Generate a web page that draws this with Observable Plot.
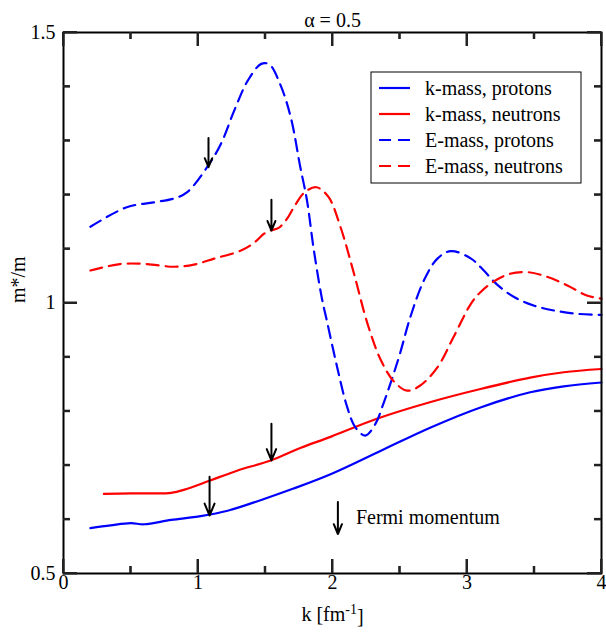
<!DOCTYPE html>
<html><head><meta charset="utf-8">
<script src="https://cdn.jsdelivr.net/npm/d3@7"></script>
<script src="https://cdn.jsdelivr.net/npm/@observablehq/plot@0.6"></script>
<style>
body{margin:0;background:#fff}
#chart{width:606px;height:637px}
</style></head><body><div id="chart"></div>
<script>
// ---- data ----
const kMassProtons = [[0.20,0.584],[0.35,0.589],[0.50,0.593],[0.60,0.591],[0.80,0.599],[1.02,0.606],[1.22,0.616],[1.47,0.636],[1.71,0.657],[1.99,0.684],[2.36,0.727],[2.73,0.770],[3.10,0.807],[3.47,0.835],[3.72,0.846],[4.00,0.853]];
const kMassNeutrons = [[0.30,0.647],[0.50,0.648],[0.65,0.648],[0.80,0.649],[0.90,0.655],[1.09,0.672],[1.29,0.690],[1.54,0.709],[1.76,0.732],[1.99,0.753],[2.33,0.786],[2.73,0.817],[3.10,0.841],[3.47,0.862],[3.72,0.872],[4.00,0.878]];
const eMassProtons = [[0.20,1.141],[0.47,1.177],[0.67,1.186],[0.82,1.193],[0.92,1.205],[1.07,1.252],[1.17,1.294],[1.27,1.356],[1.37,1.411],[1.47,1.442],[1.53,1.441],[1.61,1.405],[1.69,1.343],[1.76,1.252],[1.81,1.190],[1.86,1.100],[1.92,1.010],[1.96,0.965],[2.035,0.881],[2.11,0.807],[2.17,0.770],[2.245,0.755],[2.32,0.777],[2.38,0.815],[2.44,0.858],[2.50,0.905],[2.58,0.975],[2.68,1.042],[2.78,1.082],[2.88,1.096],[3.03,1.082],[3.125,1.060],[3.22,1.035],[3.35,1.011],[3.50,0.995],[3.65,0.986],[3.82,0.980],[4.00,0.978]];
const eMassNeutrons = [[0.20,1.060],[0.42,1.072],[0.62,1.072],[0.82,1.067],[0.97,1.071],[1.12,1.082],[1.32,1.097],[1.42,1.112],[1.49,1.128],[1.54,1.134],[1.60,1.139],[1.66,1.155],[1.72,1.180],[1.79,1.204],[1.88,1.214],[1.97,1.196],[2.06,1.140],[2.16,1.054],[2.26,0.962],[2.36,0.894],[2.46,0.854],[2.555,0.838],[2.65,0.847],[2.78,0.881],[2.90,0.937],[3.03,0.999],[3.10,1.020],[3.20,1.040],[3.32,1.054],[3.45,1.057],[3.60,1.048],[3.75,1.032],[3.89,1.014],[4.00,1.008]];

const seriesNames = ["k-mass, protons","k-mass, neutrons","E-mass, protons","E-mass, neutrons"];
const seriesColors = ["#0000ff","#ff0000","#0000ff","#ff0000"];
const seriesDashed = [false,false,true,true];

const fermiArrows = [
  {x:1.078, y1:1.305, y2:1.251},
  {x:1.546, y1:1.191, y2:1.134},
  {x:1.546, y1:0.777, y2:0.709},
  {x:1.086, y1:0.679, y2:0.607}
];
const fermiKey = [{x:2.04, y1:0.632, y2:0.573, label:"Fermi momentum"}];

const xMajorTicks = [0,1,2,3,4];
const xMinorTicks = [0.5,1.5,2.5,3.5];
const yMajorTicks = [0.5,1,1.5];
const yTickLabels = ["0.5","1","1.5"];
const yMinorTicks = [0.6,0.7,0.8,0.9,1.1,1.2,1.3,1.4];
const xDomain = [0,4];
const yDomain = [0.5,1.5];
const titleText = "α = 0.5";
const yLabelText = "m*/m";

// ---- layout ----
const W = 606, H = 637, mL = 63, mR = 5, mT = 32, mB = 64;
const majLen = 14, minLen = 7;
const font = "Liberation Serif";
const dash = "12,7";
const tickColor = "#222";
const tickWidth = 2;

const series = [kMassProtons, kMassNeutrons, eMassProtons, eMassNeutrons];
const lineMarks = series.map((s, i) => Plot.line(s, {
  x: d => d[0], y: d => d[1], stroke: seriesColors[i], strokeWidth: 2.2,
  strokeDasharray: seriesDashed[i] ? dash : null, curve: "catmull-rom"
}));

// inward ticks, positioned by the plot's x/y scales and offset in pixels
const tickOpts = {stroke: tickColor, strokeWidth: tickWidth};
const tickMarks = [
  Plot.tickX(xMajorTicks, {x: d=>d, ...tickOpts, insetTop: H - mT - mB - majLen}),
  Plot.tickX(xMajorTicks, {x: d=>d, ...tickOpts, insetBottom: H - mT - mB - majLen}),
  Plot.tickX(xMinorTicks, {x: d=>d, ...tickOpts, insetTop: H - mT - mB - minLen}),
  Plot.tickX(xMinorTicks, {x: d=>d, ...tickOpts, insetBottom: H - mT - mB - minLen}),
  Plot.tickY(yMajorTicks, {y: d=>d, ...tickOpts, insetRight: W - mL - mR - majLen}),
  Plot.tickY(yMajorTicks, {y: d=>d, ...tickOpts, insetLeft: W - mL - mR - majLen}),
  Plot.tickY(yMinorTicks, {y: d=>d, ...tickOpts, insetRight: W - mL - mR - minLen}),
  Plot.tickY(yMinorTicks, {y: d=>d, ...tickOpts, insetLeft: W - mL - mR - minLen})
];

const chart = Plot.plot({
  width: W, height: H, marginLeft: mL, marginRight: mR, marginTop: mT, marginBottom: mB,
  x: {domain: xDomain, axis: null},
  y: {domain: yDomain, axis: null},
  style: {fontSize: "20px", color: "black", background: "white"},
  marks: [
    ...lineMarks,
    Plot.frame({stroke:"black", strokeWidth:2}),
    ...tickMarks,
    Plot.text(xMajorTicks, {x:d=>d, frameAnchor:"bottom", dy:15, text:d=>String(d), fontSize:20, fill:"black", fontFamily:font}),
    Plot.text(yMajorTicks, {y:d=>d, frameAnchor:"left", dx:-8, textAnchor:"end", text:(d,i)=>yTickLabels[i], fontSize:20, fill:"black", fontFamily:font}),
    Plot.arrow(fermiArrows, {x:"x", y1:"y1", y2:"y2", stroke:"black", strokeWidth:2, headLength:11, headAngle:45}),
    Plot.arrow(fermiKey, {x:"x", y1:"y1", y2:"y2", stroke:"black", strokeWidth:2, headLength:11, headAngle:45}),
    Plot.text(fermiKey, {x:"x", y:d=>(d.y1+d.y2)/2, text:"label", textAnchor:"start", dx:18, fontSize:20, fill:"black", fontFamily:font}),
    Plot.text([titleText], {frameAnchor:"top", dy:-20, text:d=>d, fontSize:20, fill:"black", fontFamily:font}),
    Plot.text([yLabelText], {frameAnchor:"left", dx:-45, rotate:-90, text:d=>d, fontSize:20, fill:"black", fontFamily:font}),
    Plot.text(["k [fm-1]"], {frameAnchor:"bottom", dy:47, text:d=>d, fontSize:20, fill:"black", fontFamily:font, className:"xlab"})
  ]
});
document.getElementById("chart").appendChild(chart);

const svg = d3.select(chart);
svg.selectAll(".xlab text").each(function() {
  const t = d3.select(this);
  t.text(null);
  t.append("tspan").text("k [fm");
  t.append("tspan").attr("dy", "-0.45em").attr("font-size", "14px").text("-1");
  t.append("tspan").attr("dy", "0.45em").text("]");
});

// extra safety: inward ticks also drawn from the plot's own scales
const xs = chart.scale("x"), ys = chart.scale("y");
const tg = svg.append("g").attr("stroke", tickColor).attr("stroke-width", tickWidth);
const y0 = ys.apply(yDomain[0]), y1 = ys.apply(yDomain[1]);
const x0 = xs.apply(xDomain[0]), x1 = xs.apply(xDomain[1]);
[[xMajorTicks, majLen], [xMinorTicks, minLen]].forEach(([tk, len]) => tk.forEach(t => {
  const px = xs.apply(t);
  tg.append("line").attr("x1", px).attr("x2", px).attr("y1", y0).attr("y2", y0 - len);
  tg.append("line").attr("x1", px).attr("x2", px).attr("y1", y1).attr("y2", y1 + len);
}));
[[yMajorTicks, majLen], [yMinorTicks, minLen]].forEach(([tk, len]) => tk.forEach(t => {
  const py = ys.apply(t);
  tg.append("line").attr("x1", x0).attr("x2", x0 + len).attr("y1", py).attr("y2", py);
  tg.append("line").attr("x1", x1).attr("x2", x1 - len).attr("y1", py).attr("y2", py);
}));

// legend box inside the plot, as in the reference
const lg = svg.append("g").attr("font-family", font).attr("font-size", 20).attr("text-anchor", "start");
lg.append("rect").attr("x", 371).attr("y", 72).attr("width", 210).attr("height", 111)
  .attr("fill", "white").attr("stroke", "black").attr("stroke-width", 1);
seriesNames.forEach((name, i) => {
  const cy = 88 + i * 26;
  lg.append("line").attr("x1", 379).attr("x2", 410).attr("y1", cy).attr("y2", cy)
    .attr("stroke", seriesColors[i]).attr("stroke-width", 2.2)
    .attr("stroke-dasharray", seriesDashed[i] ? dash : null);
  lg.append("text").attr("x", 425).attr("y", cy).attr("dy", "0.33em").attr("fill", "black").text(name);
});
</script></body></html>
